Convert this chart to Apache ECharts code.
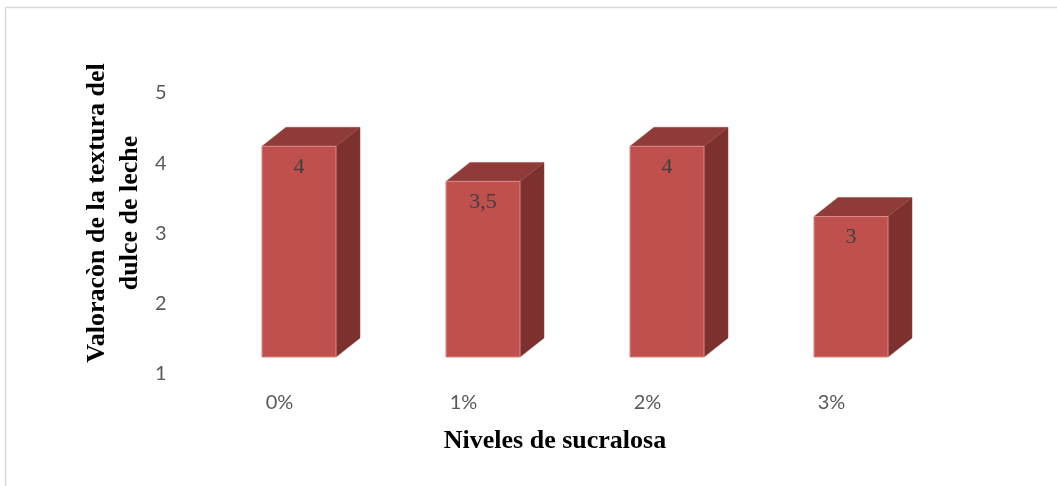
<!DOCTYPE html>
<html>
<head>
<meta charset="utf-8">
<script src="https://cdn.jsdelivr.net/npm/echarts@6/dist/echarts.min.js"></script>
<style>
  html, body { margin: 0; padding: 0; background: #ffffff; }
  #chart { width: 1057px; height: 486px; }
</style>
</head>
<body>
<div id="chart"></div>
<script>
// Sucralose levels and texture scores for dulce de leche
const categories = ['0%', '1%', '2%', '3%'];
const values = [4, 3.5, 4, 3];
const yTicks = [1, 2, 3, 4, 5];
const valueLabels = ['4', '3,5', '4', '3'];

const chart = echarts.init(document.getElementById('chart'), null, { renderer: 'canvas' });

// 3D-looking box geometry (pixels)
const BAR_W = 74;           // front face width
const FRONT_SHIFT_X = 19.5; // front face centre relative to category centre
const FRONT_SHIFT_Y = -17;  // front face raised above the axis scale
const DEPTH_X = 24;
const DEPTH_Y = -19;

function renderBox(params, api) {
  const idx = api.value(0);
  const val = api.value(1);
  const top = api.coord([idx, val]);
  const base = api.coord([idx, yTicks[0]]);
  const cx = top[0] + FRONT_SHIFT_X;
  const x0 = cx - BAR_W / 2;
  const x1 = cx + BAR_W / 2;
  const yT = top[1] + FRONT_SHIFT_Y;
  const yB = base[1] + FRONT_SHIFT_Y;
  return {
    type: 'group',
    children: [
      {
        type: 'polygon',
        shape: { points: [[x1, yB], [x1 + DEPTH_X, yB + DEPTH_Y], [x1 + DEPTH_X, yT + DEPTH_Y], [x1, yT]] },
        style: { fill: '#7D312F', stroke: '#8a3c3a', lineWidth: 0.5 }
      },
      {
        type: 'polygon',
        shape: { points: [[x0, yT], [x0 + DEPTH_X, yT + DEPTH_Y], [x1 + DEPTH_X, yT + DEPTH_Y], [x1, yT]] },
        style: { fill: '#8E3B39', stroke: '#9c4a47', lineWidth: 0.5 }
      },
      {
        type: 'rect',
        shape: { x: x0, y: yT, width: BAR_W, height: yB - yT },
        style: { fill: '#C0504D', stroke: '#D98986', lineWidth: 1 }
      },
      {
        type: 'text',
        style: {
          x: cx, y: yT + 21,
          text: valueLabels[params.dataIndex],
          align: 'center', verticalAlign: 'middle',
          fill: '#404040',
          font: '22px "Liberation Serif", "Times New Roman", serif'
        }
      }
    ]
  };
}

chart.setOption({
  animation: false,
  backgroundColor: '#ffffff',
  grid: { left: 187.5, right: 133.5, top: 93, bottom: 112 },
  xAxis: {
    type: 'category',
    data: categories,
    axisLine: { show: false },
    axisTick: { show: false },
    axisLabel: { color: '#595959', fontSize: 20, fontFamily: 'Lato, "Open Sans", sans-serif', margin: 19 }
  },
  yAxis: {
    type: 'value',
    min: 1, max: 5, interval: 1,
    axisLine: { show: false },
    axisTick: { show: false },
    splitLine: { show: false },
    axisLabel: { color: '#595959', fontSize: 20, fontFamily: 'Lato, "Open Sans", sans-serif', margin: 21 }
  },
  series: [{
    type: 'custom',
    clip: false,
    renderItem: renderBox,
    data: values.map((v, i) => [i, v])
  }],
  graphic: [
    {
      type: 'rect', silent: true,
      shape: { x: 5.5, y: 7.5, width: 1200, height: 600 },
      style: { fill: 'none', stroke: '#D9D9D9', lineWidth: 1.5 }
    },
    {
      type: 'text', x: 97, y: 213, rotation: Math.PI / 2,
      style: {
        text: 'Valoracòn de la textura del', align: 'center', verticalAlign: 'middle',
        fill: '#000000', font: 'bold 26px "Liberation Serif", "Times New Roman", serif'
      }
    },
    {
      type: 'text', x: 130, y: 213, rotation: Math.PI / 2,
      style: {
        text: 'dulce de leche', align: 'center', verticalAlign: 'middle',
        fill: '#000000', font: 'bold 26px "Liberation Serif", "Times New Roman", serif'
      }
    },
    {
      type: 'text', x: 555, y: 441,
      style: {
        text: 'Niveles de sucralosa', align: 'center', verticalAlign: 'middle',
        fill: '#000000', font: 'bold 26px "Liberation Serif", "Times New Roman", serif'
      }
    }
  ]
});
</script>
</body>
</html>
